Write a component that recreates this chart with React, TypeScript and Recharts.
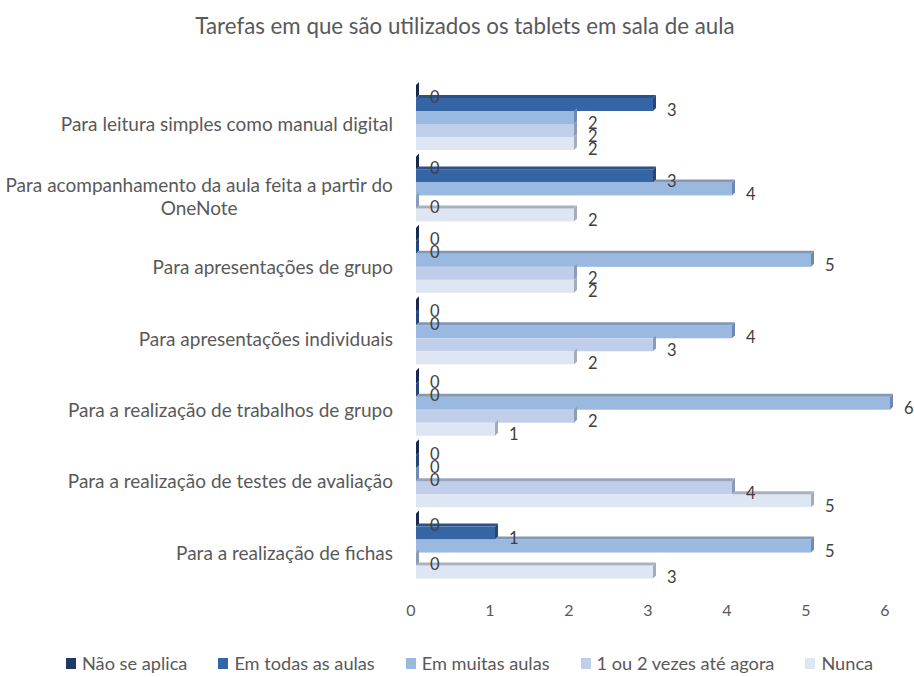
import React from 'react';
import { BarChart, Bar, XAxis, YAxis, Legend, LabelList } from 'recharts';

const title = 'Tarefas em que são utilizados os tablets em sala de aula';
const categories = [
  'Para leitura simples como manual digital',
  'Para acompanhamento da aula feita a partir do OneNote',
  'Para apresentações de grupo',
  'Para apresentações individuais',
  'Para a realização de trabalhos de grupo',
  'Para a realização de testes de avaliação',
  'Para a realização de fichas',
];
const seriesNames = ['Não se aplica', 'Em todas as aulas', 'Em muitas aulas', '1 ou 2 vezes até agora', 'Nunca'];
const naoSeAplica = [0, 0, 0, 0, 0, 0, 0];
const emTodasAsAulas = [3, 3, 0, 0, 0, 0, 1];
const emMuitasAulas = [2, 4, 5, 4, 6, 0, 5];
const umOuDuasVezes = [2, 0, 2, 3, 2, 4, 0];
const nunca = [2, 2, 2, 2, 1, 5, 3];
const xTicks = [0, 1, 2, 3, 4, 5, 6];

const keys = ['s0', 's1', 's2', 's3', 's4'];
const seriesValues = [naoSeAplica, emTodasAsAulas, emMuitasAulas, umOuDuasVezes, nunca];
const data = categories.map((name, i) => {
  const row: any = { name };
  keys.forEach((k, j) => (row[k] = seriesValues[j][i]));
  return row;
});

const colors = ['#203864', '#3565a5', '#9ab9e1', '#c0cee9', '#dee6f4'];
const capColors = ['#172a4d', '#24467c', '#6d89b5', '#8c9bb8', '#a4acbb'];
const topColors = ['#2a4370', '#2c5088', '#8497b5', '#98a5bd', '#a9b1c0'];

const FONT = 'Lato, "Open Sans", sans-serif';
const TEXT = '#595959';

let ctx: CanvasRenderingContext2D | null = null;
const measure = (s: string, font: string) => {
  if (!ctx) ctx = document.createElement('canvas').getContext('2d');
  if (!ctx) return s.length * 8;
  ctx.font = font;
  return ctx.measureText(s).width;
};

const wrap = (s: string, max: number) => {
  const words = s.split(' ');
  const lines: string[] = [];
  let cur = '';
  words.forEach((w) => {
    const t = cur ? cur + ' ' + w : w;
    if (t.length > max && cur) {
      lines.push(cur);
      cur = w;
    } else cur = t;
  });
  if (cur) lines.push(cur);
  return lines;
};

const LABEL_SIZE = 19;

const YTick = (props: any) => {
  const { x, y, payload } = props;
  const lines = wrap(String(payload.value), 46);
  const lh = 23;
  const y0 = y + 7 - ((lines.length - 1) * lh) / 2;
  if (lines.length === 1) {
    return (
      <text x={x} y={y0} textAnchor="end" dominantBaseline="central" fill={TEXT} fontFamily={FONT} fontSize={LABEL_SIZE}>
        {lines[0]}
      </text>
    );
  }
  const w = Math.max(...lines.map((l) => measure(l, `${LABEL_SIZE}px Lato`)));
  const cx = x - w / 2;
  return (
    <text textAnchor="middle" fill={TEXT} fontFamily={FONT} fontSize={LABEL_SIZE} dominantBaseline="central">
      {lines.map((l, i) => (
        <tspan key={i} x={cx} y={y0 + i * lh}>
          {l}
        </tspan>
      ))}
    </text>
  );
};

const XTick = (props: any) => {
  const { x, y, payload } = props;
  return (
    <text x={x - 5} y={y} textAnchor="middle" dominantBaseline="central" fill={TEXT} fontFamily={FONT} fontSize={16}>
      {payload.value}
    </text>
  );
};

const makeShape = (idx: number) => (props: any) => {
  const { x, y, width, height, payload } = props;
  const val = payload[keys[idx]];
  const w = Math.max(0, width || 0);
  const d = 3;
  const above = idx > 0 ? payload[keys[idx - 1]] : 0;
  const ppu = val > 0 ? w / val : 0;
  const xs = x + Math.min(w, above * ppu);
  const xe = x + w;
  return (
    <g>
      {w > 0 && <rect x={x} y={y} width={w} height={height} fill={colors[idx]} />}
      {xe > xs && (
        <polygon
          points={`${xs},${y} ${xs + d},${y - d} ${xe + d},${y - d} ${xe},${y}`}
          fill={topColors[idx]}
        />
      )}
      <polygon
        points={`${xe},${y + height} ${xe},${y} ${xe + d},${y - d} ${xe + d},${y + height - d}`}
        fill={capColors[idx]}
      />
    </g>
  );
};

const ValueLabel = (props: any) => {
  const { x, y, width, height, value } = props;
  return (
    <text
      x={x + Math.max(0, width || 0) + 14}
      y={y + height / 2 + 5}
      dominantBaseline="central"
      fill="#404040"
      fontFamily={FONT}
      fontSize={16.5}
    >
      {value}
    </text>
  );
};

const LegendContent = () => (
  <div
    style={{
      display: 'flex',
      alignItems: 'center',
      paddingLeft: 66,
      fontFamily: FONT,
      fontSize: 18.2,
      color: TEXT,
      whiteSpace: 'nowrap',
    }}
  >
    {seriesNames.map((n, i) => (
      <div key={n} style={{ display: 'flex', alignItems: 'center', marginRight: 31 }}>
        <span style={{ display: 'inline-block', width: 10, height: 11, background: colors[i], marginRight: 6 }} />
        <span>{n}</span>
      </div>
    ))}
  </div>
);

export default function App() {
  return (
    <div style={{ position: 'absolute', left: 0, top: 0, width: 914, height: 677, background: '#fff' }}>
      <div
        style={{
          position: 'absolute',
          top: 12,
          left: 8,
          width: 914,
          textAlign: 'center',
          fontFamily: FONT,
          fontSize: 22.3,
          color: TEXT,
        }}
      >
        {title}
      </div>
      <BarChart
        width={914}
        height={677}
        data={data}
        layout="vertical"
        margin={{ top: 81, right: 24, bottom: 66, left: 0 }}
        barCategoryGap={4}
        barGap={0}
      >
        <XAxis
          type="number"
          domain={[0, 6]}
          ticks={xTicks}
          axisLine={false}
          tickLine={false}
          tickSize={0}
          tickMargin={28}
          tick={<XTick />}
          height={30}
        />
        <YAxis
          type="category"
          dataKey="name"
          width={416}
          axisLine={false}
          tickLine={false}
          tickSize={0}
          tickMargin={23}
          tick={<YTick />}
          interval={0}
        />
        <Legend
          verticalAlign="middle"
          align="center"
          layout="horizontal"
          wrapperStyle={{ top: 652, left: 0, width: 914, height: 26 }}
          content={<LegendContent />}
        />
        {keys.map((k, i) => (
          <Bar key={k} dataKey={k} name={seriesNames[i]} isAnimationActive={false} shape={makeShape(i)}>
            <LabelList dataKey={k} content={<ValueLabel />} />
          </Bar>
        ))}
      </BarChart>
    </div>
  );
}
